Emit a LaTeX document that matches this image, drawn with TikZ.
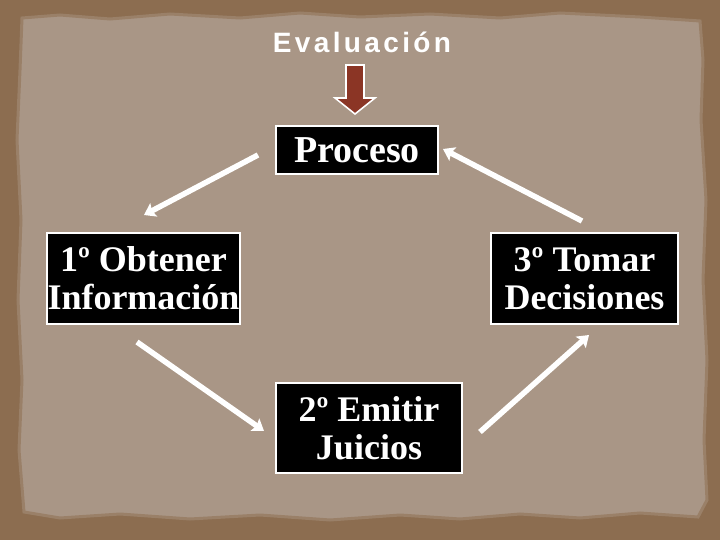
\documentclass[tikz,border=0pt]{standalone}
\usepackage{fontspec}
\usepackage{tikz}
\usetikzlibrary{arrows.meta,positioning,calc}
\newfontfamily\pasofont{Liberation Serif}
\newfontfamily\evalfont[LetterSpace=12]{Liberation Sans}
\definecolor{marco}{HTML}{8C6D50}
\definecolor{papel}{HTML}{A99686}
\definecolor{borde}{HTML}{9A8068}
\definecolor{rojo}{HTML}{8B3525}

\begin{document}
\begin{tikzpicture}[x=1pt, y=-1pt, semithick]
	\tikzstyle{paso}=[fill=black, draw=white, line width=1.6pt, text=white, align=center, inner sep=0pt, font=\pasofont\bfseries\fontsize{36}{38}\selectfont]
	\tikzstyle{flecha}=[-{Stealth[length=11pt,width=15pt,inset=2pt]}, draw=white, line width=5.5pt]
	\useasboundingbox (0,0) rectangle (720,540);
	% fondo
	\fill[marco] (0,0) rectangle (720,540);
	\fill[papel, draw=borde, line width=3pt]
	(22,18) -- (60,15) -- (110,19) -- (170,14) -- (240,18) -- (300,13) -- (360,17)
	-- (430,14) -- (500,18) -- (560,13) -- (640,17) -- (700,21) -- (703,60)
	-- (701,120) -- (706,200) -- (703,280) -- (707,360) -- (704,440) -- (707,500)
	-- (698,517) -- (640,513) -- (580,518) -- (520,514) -- (460,519) -- (400,515)
	-- (330,520) -- (260,515) -- (190,519) -- (120,514) -- (60,518) -- (24,512)
	-- (19,450) -- (22,380) -- (18,300) -- (21,220) -- (17,140) -- (20,70) -- cycle;
	% titulo
	\node[text=white, font=\evalfont\bfseries\fontsize{28}{30}\selectfont, anchor=base] (eval) at (362,53) {Evaluación};
	\draw[fill=rojo, draw=white, line width=1.6pt, line join=miter]
	(346,65) -- (364,65) -- (364,98) -- (375,98) -- (355,114) -- (335,98) -- (346,98) -- cycle;
	% pasos
	\node[paso, minimum width=162, minimum height=48, font=\pasofont\bfseries\fontsize{38}{40}\selectfont] (proceso) at (357,150) {Proceso};
	\node[paso, minimum width=193, minimum height=91] (obtener) at (143.5,278.5) {1º Obtener\\Información};
	\node[paso, minimum width=187, minimum height=91] (tomar) at (584.5,278.5) {3º Tomar\\Decisiones};
	\node[paso, minimum width=186, minimum height=90] (emitir) at (369,428) {2º Emitir\\Juicios};
	% flechas
	\coordinate (p1) at (258,155); \coordinate (o1) at (144,215);
	\coordinate (o2) at (137,342); \coordinate (e1) at (264,431);
	\coordinate (e2) at (480,432); \coordinate (t1) at (589,335);
	\coordinate (t2) at (582,221); \coordinate (p2) at (443,149);
	\draw[flecha] (p1) -- (o1);
	\draw[flecha] (o2) -- (e1);
	\draw[flecha] (e2) -- (t1);
	\draw[flecha] (t2) -- (p2);
\end{tikzpicture}
\end{document}
